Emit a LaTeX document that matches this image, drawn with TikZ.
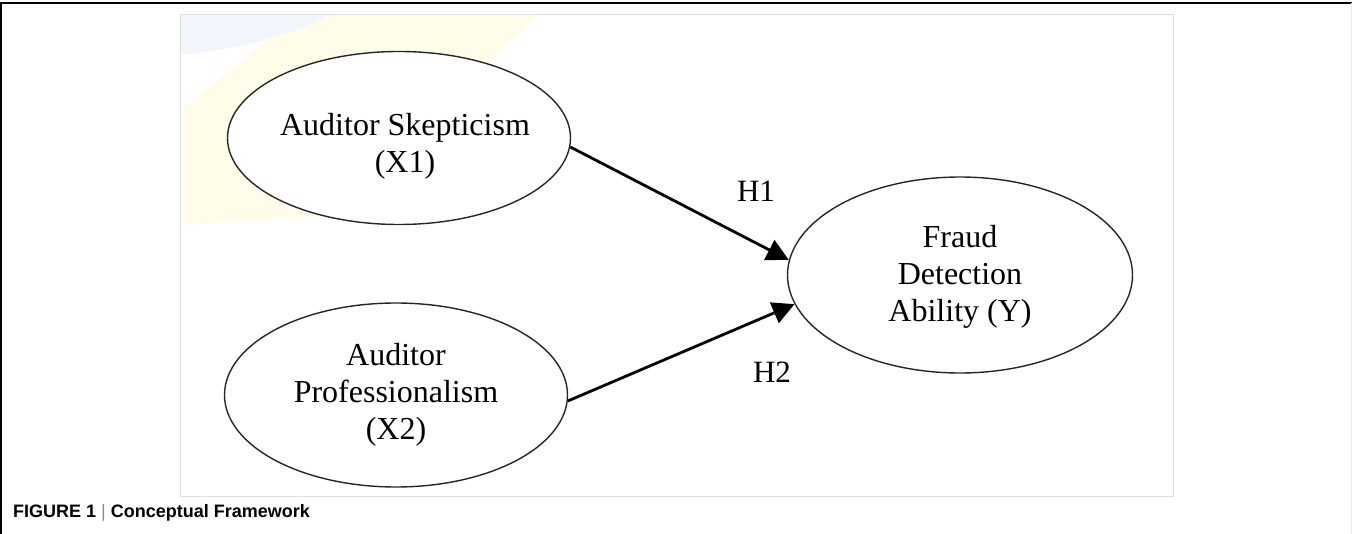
\documentclass[tikz,border=0pt]{standalone}
\usepackage{fontspec}
\setmainfont{Liberation Serif}
\newfontfamily\capfont{Liberation Sans}
\usetikzlibrary{shapes.geometric,arrows.meta}
\definecolor{wmyellow}{RGB}{255,252,234}
\definecolor{wmblue}{RGB}{242,245,252}
\definecolor{boxgray}{RGB}{224,224,224}
\begin{document}
\begin{tikzpicture}[x=1pt,y=-1pt,
  latent/.style={ellipse, draw=black!85, line width=1.4pt, fill=white,
    align=center, font=\fontsize{32}{37}\selectfont,
    inner xsep=-8pt, inner ysep=0pt},
  lattext/.style={align=center, font=\fontsize{32}{37}\selectfont, inner sep=0pt},
  relarrow/.style={line width=2.8pt, -{Triangle[length=22pt,width=22pt]}},
  hlab/.style={font=\fontsize{31}{37}\selectfont, inner sep=0pt}]
\useasboundingbox (0,0) rectangle (1352,534);
% outer frame
\draw[line width=1.5pt] (1,534) -- (1,3) -- (1352,3);
\draw[black!8, line width=0.8pt] (1351,3) -- (1351,534);
% faint watermark
\begin{scope}
  \clip (180,15) rectangle (1173,496);
  \fill[wmyellow] (300,15) -- (540,15) -- (430,110) -- (330,215) -- (180,225) -- (180,110) -- cycle;
  \fill[wmblue] (180,15) -- (330,15) .. controls (280,40) and (230,50) .. (180,55) -- cycle;
\end{scope}
% inner box
\draw[boxgray, line width=1pt] (180,15) rectangle (1173,496);
% constructs
\node[latent, minimum width=343pt, minimum height=173pt] (x1) at (399,138) {};
\node[lattext] (x1t) at (405,146) {Auditor Skepticism\\(X1)};
\node[latent, minimum width=343pt, minimum height=184pt] (x2) at (396,395)
  {Auditor\\Professionalism\\(X2)};
\node[latent, minimum width=345pt, minimum height=196pt] (y) at (960,275) {};
\node[lattext] (yt) at (960,277) {Fraud\\Detection\\Ability (Y)};
% paths
\draw[relarrow] (x1.-3.4) -- (y.175.6);
\draw[relarrow] (x2.-2.3) -- (y.190.8);
\node[hlab] (h1) at (756,191) {H1};
\node[hlab] (h2) at (772,372) {H2};
% caption
\node[anchor=base west, inner sep=0pt, font=\capfont\bfseries\fontsize{18}{20}\selectfont] (cap) at (13,517)
  {FIGURE 1 {\mdseries\color{black!45}|} Conceptual Framework};
\end{tikzpicture}
\end{document}
